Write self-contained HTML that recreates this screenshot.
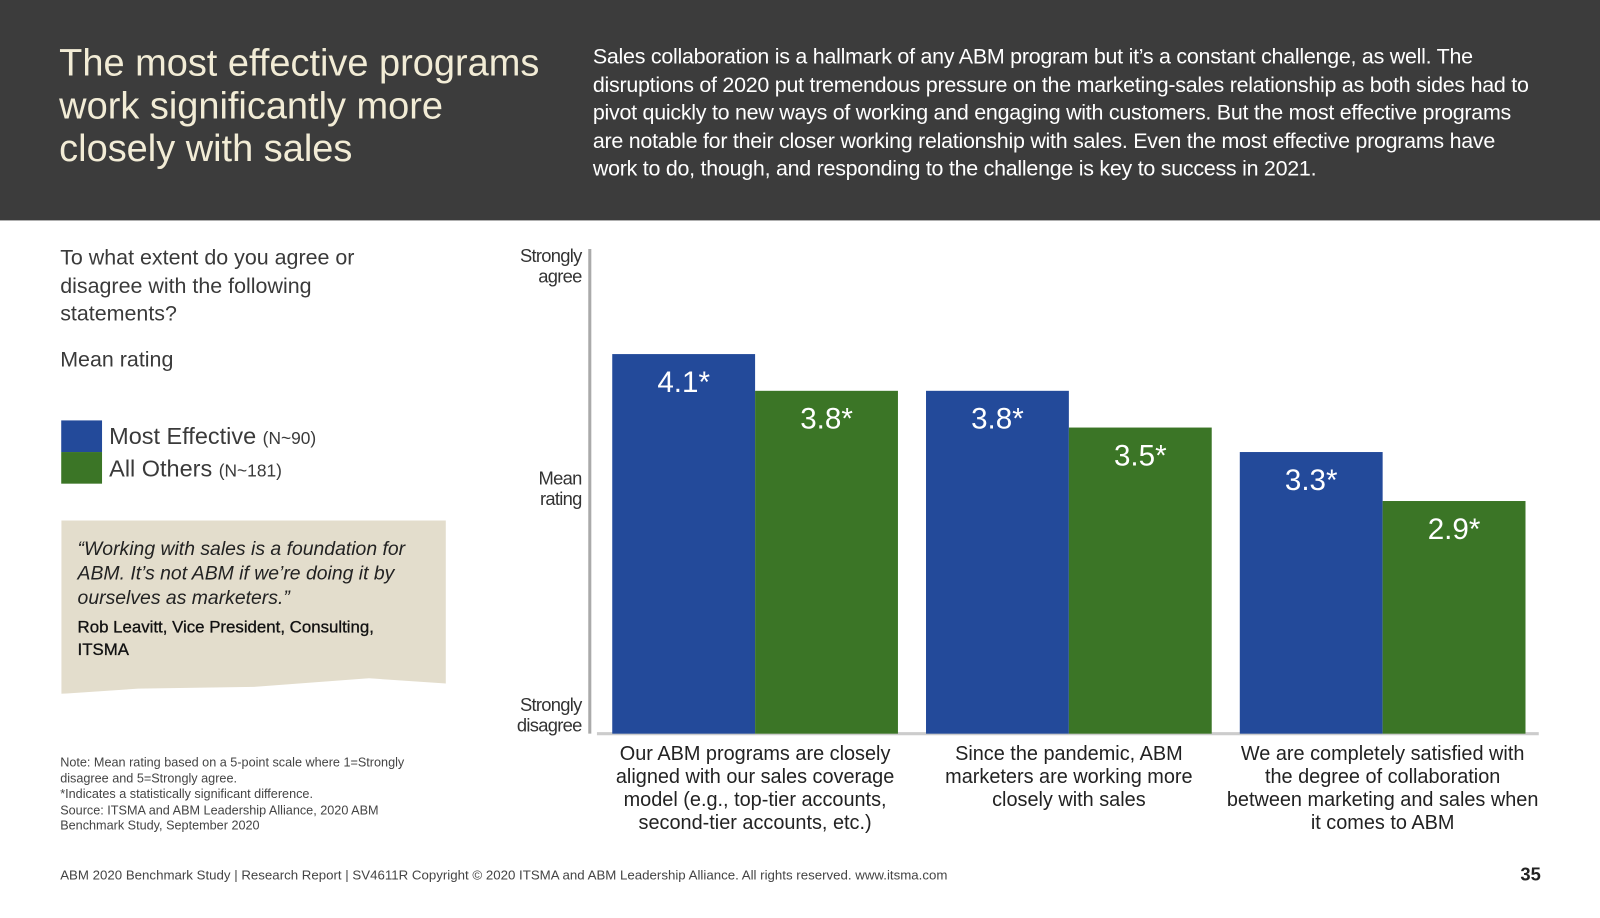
<!DOCTYPE html>
<html><head><meta charset="utf-8"><style>
body{margin:0;width:1600px;height:900px;background:#fff;font-family:"Liberation Sans",sans-serif;overflow:hidden;color:#3a3a3a}
#wrap{position:absolute;left:0;top:0;width:1568px;height:882px;transform:scale(1.0204);transform-origin:0 0}
.abs{position:absolute}
#hdr{left:0;top:0;width:1600px;height:216px;background:#3c3c3c}
</style></head><body><div id="wrap">
<div id="hdr" class="abs"></div>
<div class="abs" style="left:58px;top:40px;width:520px;font-size:37.2px;line-height:42px;color:#f2ecd6;white-space:nowrap">The most effective programs<br>work significantly more<br>closely with sales</div>
<div class="abs" style="left:581px;top:42px;font-size:21px;line-height:27.5px;color:#fff;letter-spacing:-0.25px;white-space:nowrap">Sales collaboration is a hallmark of any ABM program but it’s a constant challenge, as well. The<br>disruptions of 2020 put tremendous pressure on the marketing-sales relationship as both sides had to<br>pivot quickly to new ways of working and engaging with customers. But the most effective programs<br>are notable for their closer working relationship with sales. Even the most effective programs have<br>work to do, though, and responding to the challenge is key to success in 2021.</div>
<div class="abs" style="left:59px;top:239px;width:340px;font-size:21px;line-height:27.5px">To what extent do you agree or disagree with the following statements?</div>
<div class="abs" style="left:59px;top:341px;font-size:21px">Mean rating</div>
<div class="abs" style="left:60px;top:412px;width:40px;height:31px;background:#234a9a"></div>
<div class="abs" style="left:60px;top:443px;width:40px;height:31px;background:#3b7526"></div>
<div class="abs" style="left:107px;top:414px;font-size:23px">Most Effective <span style="font-size:17px">(N~90)</span></div>
<div class="abs" style="left:107px;top:446px;font-size:23px">All Others <span style="font-size:17px">(N~181)</span></div>
<div class="abs" style="left:60px;top:510px;width:377px;height:170px;background:#e3ddcc;clip-path:polygon(0 0,100% 0,100% 94%,80% 91%,50% 96%,20% 97%,0 100%)"></div>
<div class="abs" style="left:76px;top:527px;width:350px;font-size:19px;line-height:24px;font-style:italic;color:#222;white-space:nowrap">“Working with sales is a foundation for<br>ABM. It’s not ABM if we’re doing it by<br>ourselves as marketers.”</div>
<div class="abs" style="left:76px;top:604px;width:340px;font-size:16.5px;line-height:22px;color:#111;white-space:nowrap;-webkit-text-stroke:0.3px #111">Rob Leavitt, Vice President, Consulting,<br>ITSMA</div>
<div class="abs" style="left:59px;top:740px;width:360px;font-size:12.4px;line-height:15.6px;color:#444;white-space:nowrap">Note: Mean rating based on a 5-point scale where 1=Strongly<br>disagree and 5=Strongly agree.<br>*Indicates a statistically significant difference.<br>Source: ITSMA and ABM Leadership Alliance, 2020 ABM<br>Benchmark Study, September 2020</div>
<div class="abs" style="left:59px;top:850px;font-size:13px;color:#444;white-space:nowrap">ABM 2020 Benchmark Study | Research Report | SV4611R Copyright © 2020 ITSMA and ABM Leadership Alliance. All rights reserved. www.itsma.com</div>
<div class="abs" style="left:1490px;top:847px;font-size:18px;font-weight:bold;color:#222">35</div>
<svg class="abs" style="left:0;top:0" width="1600" height="900" id="chart"></svg>
</div>
<script>
const categories=["Our ABM programs are closely|aligned with our sales coverage|model (e.g., top-tier accounts,|second-tier accounts, etc.)","Since the pandemic, ABM|marketers are working more|closely with sales","We are completely satisfied with|the degree of collaboration|between marketing and sales when|it comes to ABM"];
const mostEffective=[4.1,3.8,3.3];
const allOthers=[3.8,3.5,2.9];
const valueLabels1=["4.1*","3.8*","3.3*"];
const valueLabels2=["3.8*","3.5*","2.9*"];
const yTicks=["Strongly|disagree","Mean|rating","Strongly|agree"];
const yTickVals=[1,3,5];
const NS="http://www.w3.org/2000/svg";
const svg=document.getElementById('chart');
const y=v=>719-(v-1)*120;
const gx=i=>600+i*307.5;
function mk(t,a){const e=document.createElementNS(NS,t);for(const k in a)e.setAttribute(k,a[k]);svg.appendChild(e);return e;}
let ax=mk('line',{x1:578,y1:244,x2:578,y2:719,stroke:'#aaa','stroke-width':3});


let bl=mk('line',{x1:585,y1:719,x2:1508,y2:719,stroke:'#ccc','stroke-width':3});


yTicks.forEach((t,i)=>{const lines=t.split('|');const yy=yTickVals[i]===5?y(5)+18:(yTickVals[i]===1?y(1)-22:y(3)-4);
lines.forEach((l,j)=>{const e=mk('text',{x:570,y:yy+j*20,'text-anchor':'end','font-size':18,fill:'#333','letter-spacing':'-0.7'});e.textContent=l;

});});
categories.forEach((c,i)=>{
 const x0=gx(i);
 [[mostEffective,'#234a9a',valueLabels1,0],[allOthers,'#3b7526',valueLabels2,140]].forEach(([arr,col,lab,off])=>{
  const r=mk('rect',{x:x0+off,y:y(arr[i]),width:140,height:719-y(arr[i]),fill:col});
  
  
  const t=mk('text',{x:x0+off+70,y:y(arr[i])+37,'text-anchor':'middle','font-size':29,fill:'#fff'});t.textContent=lab[i];
  
  
 });
 c.split('|').forEach((l,j)=>{const t=mk('text',{x:x0+140,y:745+j*22.5,'text-anchor':'middle','font-size':19.5,fill:'#222'});t.textContent=l;
 
 });
});
</script>
</body></html>
